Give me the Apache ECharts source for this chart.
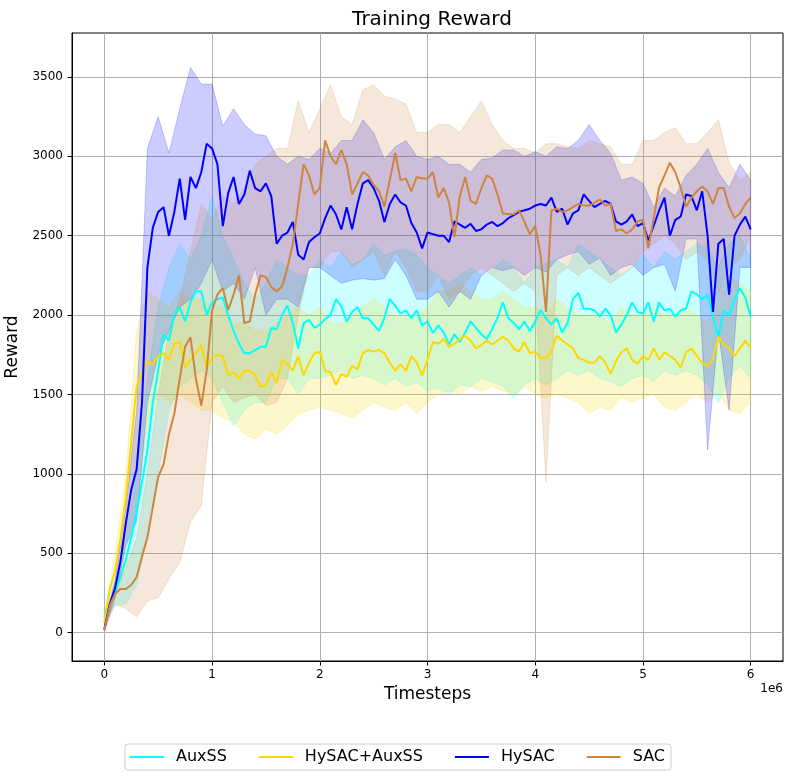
<!DOCTYPE html>
<html>
<head>
<meta charset="utf-8">
<script src="https://cdn.jsdelivr.net/npm/echarts@6/dist/echarts.min.js"></script>
<style>
html,body{margin:0;padding:0;background:#fff;}
#chart{width:787px;height:773px;}
</style>
</head>
<body>
<div id="chart"></div>
<script>
// ---- data (timesteps in millions, "1e6" offset as in original) ----
const seriesNames = ['AuxSS', 'HySAC+AuxSS', 'HySAC', 'SAC'];
const xTicks = [0, 1, 2, 3, 4, 5, 6];
const yTicks = [0, 500, 1000, 1500, 2000, 2500, 3000, 3500];

const meanT = [0,0.05,0.1,0.15,0.2,0.25,0.3,0.35,0.4,0.45,0.5,0.55,0.6,0.65,0.7,0.75,0.8,0.85,0.9,0.95,
1,1.05,1.1,1.15,1.2,1.25,1.3,1.35,1.4,1.45,1.5,1.55,1.6,1.65,1.7,1.75,1.8,1.85,1.9,1.95,
2,2.05,2.1,2.15,2.2,2.25,2.3,2.35,2.4,2.45,2.5,2.55,2.6,2.65,2.7,2.75,2.8,2.85,2.9,2.95,
3,3.05,3.1,3.15,3.2,3.25,3.3,3.35,3.4,3.45,3.5,3.55,3.6,3.65,3.7,3.75,3.8,3.85,3.9,3.95,
4,4.05,4.1,4.15,4.2,4.25,4.3,4.35,4.4,4.45,4.5,4.55,4.6,4.65,4.7,4.75,4.8,4.85,4.9,4.95,
5,5.05,5.1,5.15,5.2,5.25,5.3,5.35,5.4,5.45,5.5,5.55,5.6,5.65,5.7,5.75,5.8,5.85,5.9,5.95,6];

const auxMean = [100,170,260,350,460,600,760,950,1150,1450,1650,1880,1840,2000,2050,1960,2080,2150,2150,2000,
2080,2100,2110,2000,1900,1820,1760,1760,1780,1800,1800,1920,1911,2000,2060,1950,1790,1950,1970,1920,
1940,1975,2000,2100,2056,1960,2020,2050,1980,1980,1940,1900,1983,2100,2060,2010,2030,1980,2030,1935,
1960,1887,1935,1890,1815,1880,1830,1890,1960,1920,1880,1850,1910,1983,2080,1980,1950,1911,1960,1900,
1960,2032,1980,1940,1980,1890,1950,2100,2140,2040,2040,2030,1990,2040,2000,1890,1940,2000,2080,2020,
2010,2080,1960,2080,2030,2040,1990,2030,2040,2150,2130,2100,2128,1990,1860,2030,2000,2100,2170,2110,1990];

const hyAuxMean = [60,270,390,590,850,1200,1550,1640,1710,1690,1740,1760,1720,1820,1830,1670,1720,1760,1810,1670,
1730,1750,1740,1620,1640,1600,1650,1650,1620,1550,1560,1640,1573,1718,1690,1650,1740,1620,1700,1760,
1770,1650,1640,1560,1630,1610,1680,1660,1760,1780,1770,1780,1760,1700,1650,1690,1650,1740,1700,1620,
1718,1830,1820,1850,1800,1820,1850,1870,1840,1790,1810,1840,1815,1840,1863,1840,1790,1770,1830,1760,
1770,1730,1730,1770,1870,1840,1815,1790,1730,1718,1700,1700,1742,1700,1630,1710,1766,1790,1718,1694,
1742,1718,1790,1720,1766,1742,1718,1670,1766,1790,1742,1700,1680,1720,1863,1815,1790,1742,1790,1839,1790];

const hySacMean = [20,180,280,450,690,900,1030,1450,2300,2550,2650,2680,2500,2650,2860,2600,2870,2800,2900,3080,
3050,2950,2560,2770,2870,2700,2760,2910,2800,2780,2830,2750,2450,2500,2520,2587,2380,2350,2460,2490,
2514,2611,2690,2635,2539,2680,2540,2700,2830,2850,2800,2720,2587,2700,2760,2710,2690,2580,2520,2420,
2520,2510,2500,2500,2460,2590,2570,2550,2575,2530,2540,2570,2587,2560,2580,2610,2630,2650,2660,2670,
2690,2700,2690,2740,2650,2670,2570,2640,2660,2760,2720,2680,2700,2720,2700,2590,2570,2590,2635,2560,
2580,2470,2563,2659,2740,2500,2600,2620,2760,2750,2660,2780,2500,2020,2450,2480,2128,2500,2570,2620,2540];

const sacMean = [15,170,245,275,275,300,350,480,600,790,980,1060,1250,1380,1600,1800,1860,1600,1430,1650,
2030,2130,2170,2032,2130,2250,1950,1960,2128,2250,2240,2176,2150,2180,2300,2450,2700,2950,2880,2760,
2800,3100,3000,2950,3040,2950,2760,2830,2900,2880,2820,2780,2683,2850,3021,2850,2860,2780,2870,2860,
2860,2900,2740,2800,2710,2490,2750,2870,2720,2700,2800,2880,2860,2760,2640,2635,2635,2660,2587,2510,
2560,2380,2020,2659,2670,2650,2660,2680,2700,2690,2690,2707,2730,2690,2700,2530,2540,2514,2540,2590,
2600,2420,2611,2804,2880,2960,2900,2804,2683,2740,2780,2810,2780,2700,2800,2800,2680,2611,2640,2700,2740];

const bandT = [0,0.1,0.2,0.3,0.4,0.5,0.6,0.7,0.8,0.9,1,1.1,1.2,1.3,1.4,1.5,1.6,1.7,1.8,1.9,
2,2.1,2.2,2.3,2.4,2.5,2.6,2.7,2.8,2.9,3,3.1,3.2,3.3,3.4,3.5,3.6,3.7,3.8,3.9,
4,4.1,4.2,4.3,4.4,4.5,4.6,4.7,4.8,4.9,5,5.1,5.2,5.3,5.4,5.5,5.6,5.7,5.8,5.9,6];

const auxUp = [130,330,600,1000,1600,2050,2300,2450,2350,2500,2750,2500,2350,2200,2100,2200,2350,2300,2250,2250,
2350,2300,2400,2320,2350,2450,2380,2400,2420,2380,2300,2250,2200,2250,2300,2250,2280,2350,2300,2200,
2300,2330,2350,2300,2450,2400,2350,2300,2250,2300,2380,2300,2400,2350,2400,2450,2420,2300,2450,2500,2350];
const auxLo = [60,170,180,300,600,1000,1400,1550,1600,1650,1600,1450,1300,1400,1450,1450,1600,1600,1500,1600,
1600,1620,1650,1600,1620,1600,1560,1600,1550,1580,1520,1540,1500,1560,1550,1600,1580,1550,1480,1560,
1600,1560,1600,1650,1620,1650,1600,1580,1550,1600,1620,1580,1650,1620,1650,1620,1560,1450,1600,1680,1600];

const hyAuxUp = [110,500,1000,1900,2150,2100,2050,2150,2100,2100,2050,2050,1950,1950,1900,1900,1950,2000,2050,2000,
2050,1950,1950,2000,2050,2100,2050,2000,2000,2000,2050,2150,2150,2200,2150,2100,2100,2150,2100,2050,
2050,2000,2100,2050,2000,2000,2000,1950,2050,2000,2000,2050,2000,2000,2050,2000,1950,2150,2250,2200,2150];
const hyAuxLo = [40,220,400,800,1300,1500,1450,1500,1450,1400,1400,1350,1330,1250,1220,1280,1250,1300,1380,1400,
1420,1400,1380,1350,1400,1450,1420,1400,1450,1380,1450,1500,1520,1500,1550,1520,1550,1520,1500,1550,
1500,1480,1500,1480,1450,1380,1420,1400,1480,1450,1480,1500,1420,1400,1450,1500,1450,1520,1400,1380,1450];

const hySacUp = [40,330,800,1400,3050,3250,3021,3300,3560,3455,3455,3190,3300,3200,3140,3130,3000,2950,3000,2980,
3050,3020,3100,3100,3230,3150,2980,3060,3100,3000,2980,3000,2950,2950,2900,2980,2990,3040,3040,3000,
3030,3000,3060,3050,3100,3200,3100,3020,2850,2870,2830,2680,2800,2750,2880,2950,3050,2900,2800,2950,2850];
const hySacLo = [10,220,550,700,1450,1750,1900,2050,2100,2200,2350,2150,2200,2100,2300,2000,2100,2100,2050,2300,
2300,2250,2200,2220,2230,2220,2230,2350,2250,2100,2100,2150,2050,2150,2100,2250,2300,2280,2300,2250,
2300,2270,2350,2380,2400,2320,2360,2250,2300,2320,2250,2300,2320,2150,2480,2480,1150,1900,1400,2300,2300];

const sacUp = [30,300,400,600,1000,1500,1900,2100,2400,2700,2600,2750,2700,2800,2950,3000,3050,3050,3350,3150,
3300,3450,3250,3200,3420,3450,3380,3360,3330,3150,3150,3200,3200,3150,3250,3350,3200,3100,3050,3050,
3020,3080,3080,3060,3050,3100,3080,3060,2950,2950,3100,3100,3150,3180,3080,3080,3150,3230,2960,2850,2900];
const sacLo = [10,180,150,100,200,220,340,440,700,800,1450,1550,1450,1480,1500,1430,1450,1600,2000,2300,
2300,2400,2400,2300,2350,2400,2250,2400,2300,2150,2150,2250,2100,2150,2250,2300,2250,2200,2150,2200,
2150,950,2250,2300,2250,2300,2250,2200,2250,2300,2400,2450,2500,2450,2350,2400,2350,2150,2300,2350,2500];

// ---- chart ----
const colors = ['#00FFFF', '#FFD700', '#0000FF', '#CD853F'];
const fills = ['rgba(0,255,255,0.2)', 'rgba(255,215,0,0.2)', 'rgba(0,0,255,0.2)', 'rgba(205,133,63,0.2)'];
const means = [auxMean, hyAuxMean, hySacMean, sacMean];
const bands = [[auxLo, auxUp], [hyAuxLo, hyAuxUp], [hySacLo, hySacUp], [sacLo, sacUp]];
const FONT = 'DejaVu Sans';

function bandSeries(idx) {
  const lo = bands[idx][0], hi = bands[idx][1];
  return {
    type: 'custom',
    name: seriesNames[idx] + ' band',
    silent: true,
    z: 1,
    clip: true,
    data: bandT.map((t, i) => [t, lo[i], hi[i]]),
    encode: { x: 0, y: [1, 2] },
    renderItem: function (params, api) {
      if (params.dataIndex !== 0) return;
      const pts = [];
      for (let i = 0; i < bandT.length; i++) pts.push(api.coord([bandT[i], hi[i]]));
      for (let i = bandT.length - 1; i >= 0; i--) pts.push(api.coord([bandT[i], lo[i]]));
      return {
        type: 'polygon',
        shape: { points: pts },
        style: { fill: fills[idx], stroke: fills[idx], lineWidth: 1 }
      };
    }
  };
}

function lineSeries(idx) {
  return {
    type: 'line',
    name: seriesNames[idx],
    z: 3,
    clip: true,
    symbol: 'none',
    showSymbol: false,
    data: meanT.map((t, i) => [t, means[idx][i]]),
    lineStyle: { color: colors[idx], width: 2 },
    itemStyle: { color: colors[idx] }
  };
}

const series = [];
for (let i = 0; i < 4; i++) series.push(bandSeries(i));
for (let i = 0; i < 4; i++) series.push(lineSeries(i));

const chart = echarts.init(document.getElementById('chart'), null, { renderer: 'canvas' });
chart.setOption({
  animation: false,
  backgroundColor: '#ffffff',
  title: {
    text: 'Training Reward',
    left: 427,
    top: 5,
    textAlign: 'center',
    textStyle: { fontFamily: FONT, fontSize: 20, fontWeight: 'normal', color: '#000' }
  },
  grid: {
    left: 72, right: 4, top: 33, bottom: 112,
    containLabel: false,
    outerBoundsMode: 'none',
    show: true, borderColor: '#000', borderWidth: 1, backgroundColor: 'transparent'
  },
  legend: {
    data: seriesNames,
    left: 125,
    top: 744,
    orient: 'horizontal',
    icon: 'rect',
    itemWidth: 34,
    itemHeight: 2,
    itemGap: 32,
    padding: [5, 6, 5, 5],
    borderColor: '#cccccc',
    borderWidth: 1,
    borderRadius: 3,
    textStyle: { fontFamily: FONT, fontSize: 16, color: '#000', padding: [0, 0, 0, 7] }
  },
  xAxis: {
    type: 'value',
    min: -0.3,
    max: 6.3,
    splitNumber: 6,
    name: 'Timesteps',
    nameLocation: 'middle',
    nameGap: 22,
    nameTextStyle: { fontFamily: FONT, fontSize: 17, color: '#000' },
    axisLine: { show: true, onZero: false, lineStyle: { color: '#000', width: 1 } },
    axisTick: { show: true, length: 4.5, inside: false, customValues: xTicks, lineStyle: { color: '#000' } },
    axisLabel: {
      customValues: xTicks,
      fontFamily: FONT, fontSize: 12, color: '#000', margin: 8,
      formatter: v => (Math.abs(v - Math.round(v)) < 1e-6 ? String(Math.round(v)) : '')
    },
    splitLine: { show: true, lineStyle: { color: '#b0b0b0', width: 1 } }
  },
  yAxis: {
    type: 'value',
    min: -179,
    max: 3777,
    splitNumber: 8,
    name: 'Reward',
    nameLocation: 'middle',
    nameGap: 41,
    nameTextStyle: { fontFamily: FONT, fontSize: 17, color: '#000' },
    axisLine: { show: true, onZero: false, lineStyle: { color: '#000', width: 1 } },
    axisTick: { show: true, length: 4.5, inside: false, customValues: yTicks, lineStyle: { color: '#000' } },
    axisLabel: {
      customValues: yTicks,
      fontFamily: FONT, fontSize: 12, color: '#000', margin: 9,
      formatter: v => (Math.abs(v / 500 - Math.round(v / 500)) < 1e-6 ? String(Math.round(v)) : '')
    },
    splitLine: { show: true, lineStyle: { color: '#b0b0b0', width: 1 } }
  },
  graphic: [{
    type: 'text',
    right: 4,
    top: 683,
    style: { text: '1e6', font: '12px "DejaVu Sans"', fill: '#000' }
  }],
  series: series
});
</script>
</body>
</html>
